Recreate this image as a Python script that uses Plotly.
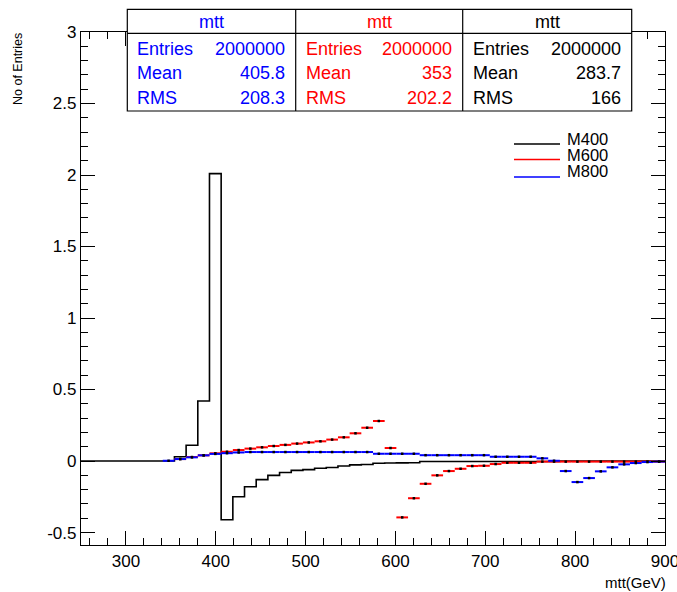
import plotly.graph_objects as go

# ---- binning: 50 bins of 13 GeV from 250 to 900 ----
BIN_LO = 250
BIN_W = 13
N_BINS = 50

# ---- per-bin contents ----
m400 = [0, 0, 0, 0, 0, 0, 0, 0, 0.03, 0.11,
        0.42, 2.01, -0.41, -0.25, -0.18, -0.13, -0.10, -0.08, -0.065, -0.06,
        -0.05, -0.045, -0.035, -0.027, -0.024, -0.015, -0.014, -0.013, -0.012, -0.003,
        -0.003, -0.003, -0.003, -0.003, -0.003, -0.003, -0.003, -0.003, -0.003, -0.003,
        -0.003, 0, 0, 0, 0, 0, 0, 0, 0, 0]

m600 = [None, None, None, None, None, None, None, None, 0.014, 0.028,
        0.04, 0.054, 0.065, 0.077, 0.087, 0.096, 0.105, 0.113, 0.122, 0.13,
        0.138, 0.15, 0.166, 0.194, 0.233, 0.28, 0.091, -0.394, -0.26, -0.159,
        -0.1, -0.07, -0.054, -0.035, -0.033, -0.021, -0.012, -0.012, -0.012, -0.004,
        -0.004, -0.004, -0.004, -0.004, -0.004, -0.004, -0.004, -0.004, -0.004, -0.004]

m800 = [None, None, None, None, None, None, None, 0.002, 0.014, 0.026,
        0.04, 0.05, 0.055, 0.06, 0.063, 0.063, 0.063, 0.063, 0.063, 0.063,
        0.063, 0.063, 0.063, 0.063, 0.063, 0.051, 0.051, 0.051, 0.051, 0.041,
        0.041, 0.041, 0.041, 0.041, 0.041, 0.03, 0.03, 0.03, 0.03, 0.019,
        0.002, -0.07, -0.147, -0.119, -0.072, -0.044, -0.023, -0.014, -0.007, -0.004]

legend_names = ["M400", "M600", "M800"]
series_colors = ["#000000", "#ff0000", "#0000ff"]

# ---- statistics boxes (left to right) ----
stat_titles = ["mtt", "mtt", "mtt"]
stat_entries = [2000000, 2000000, 2000000]
stat_means = ["405.8", "353", "283.7"]
stat_rms = ["208.3", "202.2", "166"]
stat_colors = ["#0000ff", "#ff0000", "#000000"]

# ---- axis ticks ----
x_ticks = [300, 400, 500, 600, 700, 800, 900]
y_ticks = [-0.5, 0, 0.5, 1, 1.5, 2, 2.5, 3]
y_tick_text = ["-0.5", "0", "0.5", "1", "1.5", "2", "2.5", "3"]

edges = [BIN_LO + BIN_W * i for i in range(N_BINS + 1)]
centers = [BIN_LO + BIN_W * (i + 0.5) for i in range(N_BINS)]

FONT = "Liberation Sans, Arial, Helvetica, sans-serif"
W, H = 677, 592
L, R, T, B = 81, 12, 32, 47
PW, PH = W - L - R, H - T - B


def px(xp):
    return (xp - L) / PW


def py(yp):
    return (H - B - yp) / PH


fig = go.Figure()

# M400: step histogram
fig.add_trace(go.Scatter(
    x=edges, y=m400 + [m400[-1]], mode="lines", line_shape="hv",
    line=dict(color=series_colors[0], width=1.6), hoverinfo="skip",
    showlegend=False))


# M600, M800: error-bar style (horizontal bin-width bars, dot markers)
def err_trace(vals, color):
    return go.Scatter(
        x=centers, y=vals, mode="markers",
        marker=dict(color="#000000", size=2.5, symbol="square"),
        error_x=dict(type="constant", value=BIN_W / 2, color=color,
                     thickness=2, width=0),
        hoverinfo="skip", showlegend=False)


fig.add_trace(err_trace(m600, series_colors[1]))
fig.add_trace(err_trace(m800, series_colors[2]))

shapes = []
annotations = []

# statistics boxes
box_left, box_right = 127.3, 631.7
box_top, box_bottom, head_y = 9.3, 111.0, 33.3
dividers = [box_left, 295.7, 462.7, box_right]
shapes.append(dict(type="rect", xref="paper", yref="paper",
                   x0=px(box_left), x1=px(box_right), y0=py(box_bottom), y1=py(box_top),
                   line=dict(color="black", width=1.2), fillcolor="white", layer="above"))
shapes.append(dict(type="line", xref="paper", yref="paper",
                   x0=px(box_left), x1=px(box_right), y0=py(head_y), y1=py(head_y),
                   line=dict(color="black", width=1.2), layer="above"))
for d in dividers[1:-1]:
    shapes.append(dict(type="line", xref="paper", yref="paper",
                       x0=px(d), x1=px(d), y0=py(box_bottom), y1=py(box_top),
                       line=dict(color="black", width=1.2), layer="above"))

row_y = [49.3, 73.3, 97.7]
for i in range(3):
    c0, c1 = dividers[i], dividers[i + 1]
    col = stat_colors[i]
    f = dict(family=FONT, size=18, color=col)
    annotations.append(dict(xref="paper", yref="paper", x=px((c0 + c1) / 2), y=py(21.5),
                            text=stat_titles[i], showarrow=False, font=f,
                            xanchor="center", yanchor="middle"))
    labels = ["Entries", "Mean", "RMS"]
    values = [str(stat_entries[i]), stat_means[i], stat_rms[i]]
    for ry, lab, val in zip(row_y, labels, values):
        annotations.append(dict(xref="paper", yref="paper", x=px(c0 + 8), y=py(ry),
                                text=lab, showarrow=False, font=f,
                                xanchor="left", yanchor="middle"))
        annotations.append(dict(xref="paper", yref="paper", x=px(c1 - 9), y=py(ry),
                                text=val, showarrow=False, font=f,
                                xanchor="right", yanchor="middle"))

# legend
leg_line_y = [144.0, 159.5, 177.0]
leg_text_y = [138.5, 155.0, 171.5]
for name, col, ly, ty in zip(legend_names, series_colors, leg_line_y, leg_text_y):
    shapes.append(dict(type="line", xref="paper", yref="paper",
                       x0=px(514), x1=px(560), y0=py(ly), y1=py(ly),
                       line=dict(color=col, width=1.4)))
    annotations.append(dict(xref="paper", yref="paper", x=px(566), y=py(ty),
                            text=name, showarrow=False, borderpad=0,
                            font=dict(family=FONT, size=16.5, color="black"),
                            xanchor="left", yanchor="middle"))

# axis titles
annotations.append(dict(xref="paper", yref="paper", x=px(668), y=py(582),
                        text="mtt(GeV)", showarrow=False,
                        font=dict(family=FONT, size=15, color="black"),
                        xanchor="right", yanchor="middle"))
annotations.append(dict(xref="paper", yref="paper", x=px(18), y=py(31),
                        text="No of Entries", showarrow=False, textangle=-90,
                        font=dict(family=FONT, size=12.5, color="black"),
                        xanchor="center", yanchor="top"))

axis_common = dict(showgrid=False, zeroline=False, showline=True, linecolor="black",
                   linewidth=1.2, mirror="ticks", ticks="inside", tickcolor="black",
                   tickwidth=1.2, ticklabeloverflow="allow", automargin=False,
                   tickfont=dict(family=FONT, size=17, color="black"))

fig.update_layout(
    width=W, height=H,
    margin=dict(l=L, r=R, t=T, b=B, pad=0, autoexpand=False),
    paper_bgcolor="white", plot_bgcolor="white",
    xaxis=dict(range=[250, 900], tickvals=x_ticks, ticklen=14,
               minor=dict(ticks="inside", dtick=20, tick0=300, ticklen=7,
                          tickcolor="black", tickwidth=1.2, showgrid=False),
               **axis_common),
    yaxis=dict(range=[-0.587, 3.0], tickvals=y_ticks, ticktext=y_tick_text, ticklen=14,
               minor=dict(ticks="inside", dtick=0.1, tick0=0, ticklen=7,
                          tickcolor="black", tickwidth=1.2, showgrid=False),
               **axis_common),
    shapes=shapes, annotations=annotations, showlegend=False,
)

fig.write_html("out.html")
